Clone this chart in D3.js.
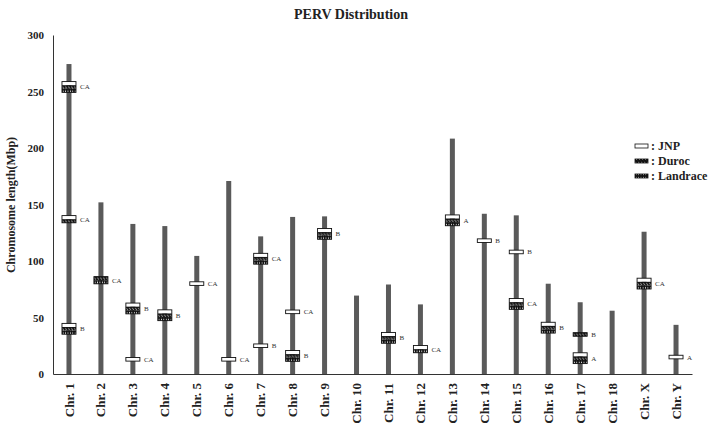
<!DOCTYPE html>
<html>
<head>
<meta charset="utf-8">
<script src="https://cdn.jsdelivr.net/npm/d3@7"></script>
<style>
  body { margin: 0; background: #fff; }
  svg { display: block; font-family: "Liberation Serif", "Times New Roman", serif; }
</style>
</head>
<body>
<div id="chart"></div>
<script>
// chromosome lengths (Mbp)
const chromosomes = ["Chr. 1", "Chr. 2", "Chr. 3", "Chr. 4", "Chr. 5", "Chr. 6", "Chr. 7", "Chr. 8", "Chr. 9", "Chr. 10",
    "Chr. 11", "Chr. 12", "Chr. 13", "Chr. 14", "Chr. 15", "Chr. 16", "Chr. 17", "Chr. 18", "Chr. X", "Chr. Y"];
const chrLengths = [274.3, 151.9, 132.8, 130.9, 104.5, 170.8, 121.8, 139.0, 139.5, 69.4,
    79.2, 61.6, 208.3, 141.8, 140.4, 79.9, 63.5, 56.0, 125.9, 43.5];

// PERV insertions: chromosome, position (Mbp), breeds present (J=JNP, D=Duroc, L=Landrace), class
const markerChr = ["Chr. 1", "Chr. 1", "Chr. 1", "Chr. 2", "Chr. 3", "Chr. 3", "Chr. 4", "Chr. 5", "Chr. 6", "Chr. 7",
    "Chr. 7", "Chr. 8", "Chr. 8", "Chr. 9", "Chr. 11", "Chr. 12", "Chr. 13", "Chr. 14", "Chr. 15", "Chr. 15",
    "Chr. 16", "Chr. 17", "Chr. 17", "Chr. X", "Chr. Y"];
const markerPos = [254, 137, 40, 83, 58, 13, 52, 80, 13, 102,
    25, 55, 16, 124, 32, 22, 136, 118, 108, 62,
    41, 35, 14, 80, 15];
const markerBreeds = ["JDL", "JD", "JDL", "DL", "JDL", "J", "JDL", "J", "J", "JDL",
    "J", "J", "JDL", "JDL", "JDL", "JL", "JDL", "J", "J", "JDL",
    "JDL", "D", "JDL", "JDL", "J"];
const markerClass = ["CA", "CA", "B", "CA", "B", "CA", "B", "CA", "CA", "CA",
    "B", "CA", "B", "B", "B", "CA", "A", "B", "B", "CA",
    "B", "B", "A", "CA", "A"];

const breedKeys = ["J", "D", "L"];
const breedNames = ["JNP", "Duroc", "Landrace"];
const yTicks = [0, 50, 100, 150, 200, 250, 300];

const W = 720, H = 427;
const svg = d3.select("#chart").append("svg").attr("width", W).attr("height", H);

// patterns for the breed layers
const defs = svg.append("defs");
const pD = defs.append("pattern").attr("id", "pat-D").attr("patternUnits", "userSpaceOnUse")
    .attr("width", 3).attr("height", 4);
pD.append("rect").attr("width", 3).attr("height", 4).attr("fill", "#111");
pD.append("line").attr("x1", 0.3).attr("y1", 1.2).attr("x2", 2.1).attr("y2", 2.8)
    .attr("stroke", "#fff").attr("stroke-width", 0.8);
const pL = defs.append("pattern").attr("id", "pat-L").attr("patternUnits", "userSpaceOnUse")
    .attr("width", 2.4).attr("height", 4);
pL.append("rect").attr("width", 2.4).attr("height", 4).attr("fill", "#111");
pL.append("line").attr("x1", 1.2).attr("y1", 0.9).attr("x2", 1.2).attr("y2", 3.1)
    .attr("stroke", "#fff").attr("stroke-width", 0.8);

const fills = {J: "#fff", D: "url(#pat-D)", L: "url(#pat-L)"};

const x = d3.scaleBand().domain(chromosomes).range([53, 692]);
const y = d3.scaleLinear().domain([0, 300]).range([374, 35]);

// title
svg.append("text").attr("x", 351).attr("y", 19).attr("text-anchor", "middle")
    .style("font-size", "14px").style("font-weight", "bold").attr("fill", "#222")
    .text("PERV Distribution");

// y axis
const yAxis = svg.append("g").attr("transform", "translate(53,0)")
    .call(d3.axisLeft(y).tickValues(yTicks).tickSize(0).tickPadding(9));
yAxis.select(".domain").attr("stroke", "#333");
yAxis.selectAll("text").style("font-size", "11px").style("font-weight", "bold")
    .style("font-family", "Liberation Serif, serif").attr("fill", "#222");

svg.append("text").attr("transform", "translate(15,205) rotate(-90)")
    .attr("text-anchor", "middle").style("font-size", "12px").style("font-weight", "bold")
    .attr("fill", "#222").text("Chromosome length(Mbp)");

// chromosome bars
const barW = 5;
svg.append("g").selectAll("rect").data(chromosomes).join("rect")
    .attr("x", (d) => x(d) + x.bandwidth() / 2 - barW / 2)
    .attr("y", (d, i) => y(chrLengths[i]))
    .attr("width", barW)
    .attr("height", (d, i) => y(0) - y(chrLengths[i]))
    .attr("fill", "#5a5a5a");

// x axis
const xAxis = svg.append("g").attr("transform", "translate(0,374)")
    .call(d3.axisBottom(x).tickSize(0).tickSizeOuter(0).tickPadding(0));
xAxis.select(".domain").attr("stroke", "#333");
xAxis.selectAll("text")
    .attr("transform", "rotate(-90)")
    .attr("text-anchor", "end")
    .attr("x", -9).attr("y", 0).attr("dy", "0.35em")
    .style("font-size", "13px").style("font-weight", "bold")
    .style("font-family", "Liberation Serif, serif").attr("fill", "#222");

// insertion markers
const mW = 14, layerH = 3.6;
const markers = svg.append("g").selectAll("g").data(markerPos).join("g")
    .attr("transform", (d, i) => {
        const n = markerBreeds[i].length;
        return `translate(${x(markerChr[i]) + x.bandwidth() / 2 - mW / 2},${y(d) - n * layerH / 2})`;
    });
markers.each(function(d, i) {
    const g = d3.select(this);
    const layers = markerBreeds[i].split("");
    layers.forEach((b, k) => {
        g.append("rect").attr("x", 0).attr("y", k * layerH).attr("width", mW).attr("height", layerH)
            .attr("fill", fills[b]);
    });
    g.append("rect").attr("x", 0).attr("y", 0).attr("width", mW).attr("height", layers.length * layerH)
        .attr("fill", "none").attr("stroke", "#111").attr("stroke-width", 0.9);
    g.append("text").attr("x", mW + 4).attr("y", layers.length * layerH / 2).attr("dy", "0.35em")
        .style("font-size", "7px").attr("fill", "#333").text(markerClass[i]);
});

// legend
const legend = svg.append("g").attr("transform", "translate(635,146)");
breedKeys.forEach((b, k) => {
    const row = legend.append("g").attr("transform", `translate(0,${k * 15})`);
    row.append("rect").attr("x", 0).attr("y", -2).attr("width", 13).attr("height", 4)
        .attr("fill", fills[b]).attr("stroke", "#111").attr("stroke-width", 0.8);
    row.append("text").attr("x", 16).attr("y", 0).attr("dy", "0.35em")
        .style("font-size", "12px").style("font-weight", "bold").attr("fill", "#222")
        .text(": " + breedNames[k]);
});
</script>
</body>
</html>
